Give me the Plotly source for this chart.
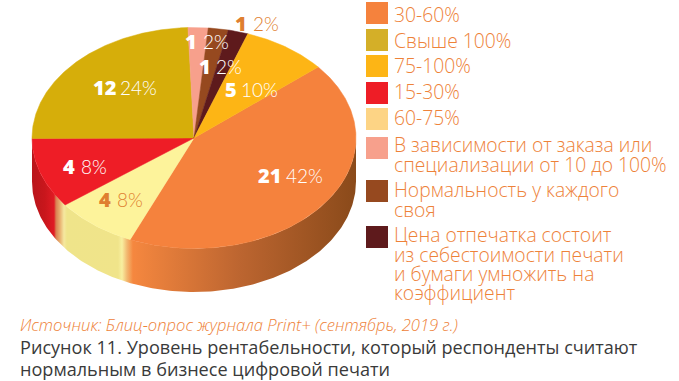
import numpy as np
import plotly.graph_objects as go

# ---------- data ----------
categories = ["30-60%", "Свыше 100%", "75-100%", "15-30%", "60-75%",
              "В зависимости от заказа или специализации от 10 до 100%",
              "Нормальность у каждого своя",
              "Цена отпечатка состоит из себестоимости печати и бумаги умножить на коэффициент"]
counts = [21, 12, 5, 4, 4, 1, 1, 1]
percent_labels = ["42%", "24%", "10%", "8%", "8%", "2%", "2%", "2%"]
# Drawn slice shares as measured on the picture (the picture differs slightly from its labels)
drawn_shares = [42.6, 24.5, 8.5, 10.3, 8.2, 2.0, 2.0, 2.0]
legend_lines = [["30-60%"], ["Свыше 100%"], ["75-100%"], ["15-30%"], ["60-75%"],
                ["В зависимости от заказа или", "специализации от 10 до 100%"],
                ["Нормальность у каждого", "своя"],
                ["Цена отпечатка состоит", "из себестоимости печати", "и бумаги умножить на", "коэффициент"]]
source_text = "Источник: Блиц-опрос журнала Print+ (сентябрь, 2019 г.)"
caption_lines = ["Рисунок 11. Уровень рентабельности, который респонденты считают",
                 "нормальным в бизнесе цифровой печати"]

# ---------- style / layout ----------
W, H = 679, 381
CX, CY, RX, RY, DEPTH = 194.0, 138.0, 162.0, 110.5, 43.5
START_DEG = 40.0  # orange starts here, slices run clockwise
FONT = "Open Sans"
PCT_FONT = "Lato"
ORANGE_TEXT = "#EE8239"
slice_colors = ["#F5823D", "#D6AE0A", "#FDB515", "#EE1D26", "#FDF39B", "#F7A08C", "#96491F", "#5E1A1C"]
legend_colors = ["#F5823D", "#D4AF28", "#FDB515", "#EE1D26", "#FDD485", "#F7A08C", "#96491F", "#5E1A1C"]
draw_order = [0, 4, 3, 1, 5, 6, 7, 2]  # clockwise order on the pie
legend_top = [2, 29, 55, 82, 108, 137, 180, 226]
legend_line_y = [[14], [40], [65], [91], [117], [144, 164], [189, 209], [234, 254, 273, 292]]
# number right edge / percent left edge / y for each category
label_pos = [(281, 286, 175), (116, 120, 87), (237, 241, 89), (75, 81, 166),
             (111, 117, 199), (197, 203, 41), (211, 216, 66), (247, 253, 23)]
label_col = ["white", "white", "white", "white", "#DF7F30", "white", "white", "#DF7F30"]
# side-wall gradient (x in pixels -> colour)
wall_stops = [(32, "#B9151B"), (45, "#C9161C"), (54, "#E01B24"), (56, "#D88050"), (60, "#E8B070"),
              (64, "#F5E8A0"), (67, "#EFE48A"), (118, "#F0E48A"), (122, "#F8EFA0"), (127, "#F2B870"),
              (133, "#F5873F"), (240, "#BC6530"), (356, "#8A4A1A")]

fig = go.Figure()
shares = np.array(drawn_shares, dtype=float)
shares = shares / shares.sum()
a = START_DEG
bounds = {}
for i in draw_order:
    bounds[i] = (a, a - 360 * shares[i])
    a -= 360 * shares[i]

# side wall
t = np.radians(np.linspace(0, -180, 200))
xs = CX + RX * np.cos(t)
ys = CY - RY * np.sin(t)
x0, x1 = wall_stops[0][0], wall_stops[-1][0]
scale = [[(p - x0) / (x1 - x0), c] for p, c in wall_stops]
fig.add_trace(go.Scatter(x=np.r_[xs, xs[::-1]], y=np.r_[ys, ys[::-1] + DEPTH], mode="lines", fill="toself",
                         line=dict(width=0),
                         fillgradient=dict(type="horizontal", colorscale=scale, start=x0, stop=x1),
                         hoverinfo="skip", showlegend=False))

# top face
for i in draw_order:
    a0, a1 = bounds[i]
    t = np.radians(np.linspace(a0, a1, max(int(a0 - a1) * 2, 8)))
    fig.add_trace(go.Scatter(x=np.r_[CX, CX + RX * np.cos(t), CX],
                             y=np.r_[CY, CY - RY * np.sin(t), CY],
                             mode="lines", fill="toself", fillcolor=slice_colors[i],
                             line=dict(width=0.5, color=slice_colors[i]),
                             name=categories[i], hoverinfo="name", showlegend=False))

ann = []
def text(x, y, s, size, color, anchor="left", weight=None, style=None, family=FONT):
    ann.append(dict(x=x, y=y, xref="x", yref="y", text=s, showarrow=False, xanchor=anchor, yanchor="middle",
                    borderpad=0, borderwidth=0,
                    font=dict(family=family, size=size, color=color, weight=weight or 400, style=style or "normal")))

# value labels
for i, (nx, px_, y) in enumerate(label_pos):
    text(nx, y, str(counts[i]), 20, label_col[i], "right", 800)
    text(px_, y, percent_labels[i], 19, label_col[i], "left", 300, family=PCT_FONT)

# legend
shapes = []
for i, top in enumerate(legend_top):
    shapes.append(dict(type="rect", xref="x", yref="y", x0=366, x1=388, y0=top, y1=top + 22,
                       fillcolor=legend_colors[i], line=dict(width=0), layer="below"))
    for line, y in zip(legend_lines[i], legend_line_y[i]):
        text(394, y, line, 19.3, ORANGE_TEXT, "left", 300)

# footer
text(20, 324, source_text, 16.6, ORANGE_TEXT, "left", 300, "italic")
text(20, 347, caption_lines[0], 18.1, "#3A3A3A", "left", 400)
text(20, 369, caption_lines[1], 18.1, "#3A3A3A", "left", 400)

fig.update_layout(width=W, height=H, margin=dict(l=0, r=0, t=0, b=0), paper_bgcolor="white", plot_bgcolor="white",
                  xaxis=dict(range=[0, W], visible=False, fixedrange=True),
                  yaxis=dict(range=[H, 0], visible=False, fixedrange=True),
                  annotations=ann, shapes=shapes, showlegend=False)
fig.write_html("out.html", config={"displayModeBar": False}, default_width=f"{W}px", default_height=f"{H}px",
               post_script="document.body.style.margin='0';document.body.style.overflow='hidden';")
